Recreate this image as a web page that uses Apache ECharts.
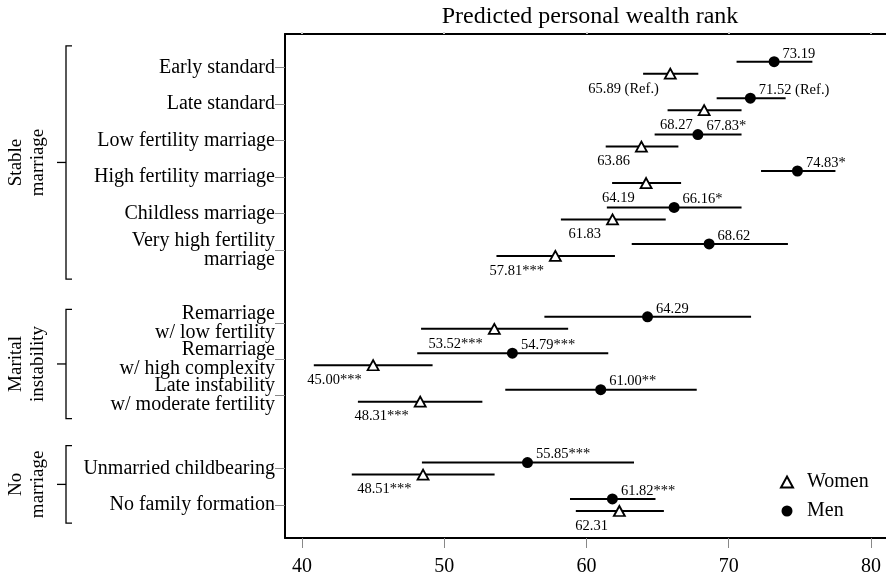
<!DOCTYPE html>
<html>
<head>
<meta charset="utf-8">
<title>Predicted personal wealth rank</title>
<script src="https://cdn.jsdelivr.net/npm/echarts@6/dist/echarts.min.js"></script>
<style>
  html, body { margin: 0; padding: 0; background: #fff; }
  #chart { width: 886px; height: 577px; }
</style>
</head>
<body>
<div id="chart"></div>
<script>
// Family-trajectory categories, top to bottom; '' marks a spacer row between groups.
const categories = [
  'Early standard', 'Late standard', 'Low fertility marriage', 'High fertility marriage',
  'Childless marriage', 'Very high fertility\nmarriage', '',
  'Remarriage\nw/ low fertility', 'Remarriage\nw/ high complexity', 'Late instability\nw/ moderate fertility', '',
  'Unmarried childbearing', 'No family formation'
];

// Men: predicted rank, 95% interval, significance marks
const menValue = [73.19, 71.52, 67.83, 74.83, 66.16, 68.62, null, 64.29, 54.79, 61.00, null, 55.85, 61.82];
const menLow   = [70.55, 69.15, 64.79, 72.27, 61.43, 63.18, null, 57.04, 48.10, 54.29, null, 48.43, 58.84];
const menHigh  = [75.88, 74.00, 70.90, 77.50, 70.90, 74.16, null, 71.57, 61.53, 67.75, null, 63.34, 64.85];
const menSig   = ['', ' (Ref.)', '*', '*', '*', '', '', '', '***', '**', '', '***', '***'];

// Women: predicted rank, 95% interval, significance marks
const womenValue = [65.89, 68.27, 63.86, 64.19, 61.83, 57.81, null, 53.52, 45.00, 48.31, null, 48.51, 62.31];
const womenLow   = [63.98, 65.70, 61.35, 61.80, 58.20, 53.67, null, 48.37, 40.83, 43.93, null, 43.50, 59.25];
const womenHigh  = [67.86, 70.90, 66.46, 66.65, 65.57, 62.00, null, 58.71, 49.18, 52.68, null, 53.54, 65.44];
const womenSig   = [' (Ref.)', '', '', '', '', '***', '', '***', '***', '***', '', '***', ''];

const xTicks = [40, 50, 60, 70, 80];

// Group brackets drawn to the left of the category labels
const groups = [
  { name: 'Stable\nmarriage', first: 0, last: 5 },
  { name: 'Marital\ninstability', first: 7, last: 9 },
  { name: 'No\nmarriage', first: 11, last: 12 }
];
// Bracket extent around its first and last rows (in row units)
const bracketPad = [[-0.6, 0.8], [-0.37, 0.63], [-0.63, 0.5]];

const SERIF = "'Liberation Serif', 'Times New Roman', Times, serif";
const ROW_SHIFT = 0.165;   // men drawn just above the row, women just below

const rowIdx = categories.map((c, i) => i).filter(i => categories[i] !== '');

function points(values, sig, shift) {
  return rowIdx.map(i => ({ value: [values[i], i + shift], label: { formatter: values[i].toFixed(2) + sig[i] } }));
}
function intervals(lo, hi, shift) {
  return rowIdx.map(i => [lo[i], hi[i], i + shift]);
}

function ciRender(params, api) {
  const a = api.coord([api.value(0), api.value(2)]);
  const b = api.coord([api.value(1), api.value(2)]);
  return {
    type: 'line',
    shape: { x1: a[0], y1: a[1], x2: b[0], y2: b[1] },
    style: { stroke: '#000', lineWidth: 2 }
  };
}

const chart = echarts.init(document.getElementById('chart'), null, { renderer: 'canvas' });

const option = {
  backgroundColor: '#fff',
  animation: false,
  title: {
    text: 'Predicted personal wealth rank',
    left: 585, top: 0, textAlign: 'center',
    textStyle: { fontFamily: SERIF, fontSize: 24, fontWeight: 'normal', color: '#000' }
  },
  grid: { left: 285, top: 34, right: 0, bottom: 39, containLabel: false },
  xAxis: [{
    type: 'value', position: 'bottom', min: 38.805, max: 81.055,
    axisLine: { show: true, onZero: false, lineStyle: { color: '#000', width: 2 } },
    axisTick: { show: true, length: 10, customValues: xTicks, lineStyle: { color: '#888', width: 1 } },
    axisLabel: { customValues: xTicks, margin: 19, fontFamily: SERIF, fontSize: 20, color: '#000' },
    splitLine: { show: false }
  }, {
    type: 'value', position: 'top', min: 38.805, max: 81.055,
    axisLine: { show: true, onZero: false, lineStyle: { color: '#000', width: 2 } },
    axisTick: { show: true, length: 2, customValues: xTicks, lineStyle: { color: '#ccc', width: 2 } },
    axisLabel: { show: false },
    splitLine: { show: false }
  }],
  yAxis: {
    type: 'value', inverse: true, min: -0.925, max: 12.906,
    axisLine: { show: true, onZero: false, lineStyle: { color: '#000', width: 2 } },
    axisTick: { show: true, length: 10, customValues: rowIdx, lineStyle: { color: '#888', width: 1 } },
    axisLabel: {
      customValues: rowIdx, margin: 10,
      formatter: v => categories[Math.round(v)] || '',
      fontFamily: SERIF, fontSize: 20, lineHeight: 19, color: '#000', align: 'right'
    },
    splitLine: { show: false }
  },
  legend: {
    orient: 'vertical', left: 780, top: 472, padding: 0,
    itemWidth: 12, itemHeight: 11, itemGap: 9,
    data: [{ name: 'Women', icon: 'triangle' }, { name: 'Men', icon: 'circle' }],
    textStyle: { fontFamily: SERIF, fontSize: 20, color: '#000', padding: [0, 0, 0, 9] }
  },
  series: [
    {
      type: 'custom', name: 'Men CI', renderItem: ciRender, silent: true,
      data: intervals(menLow, menHigh, -ROW_SHIFT), encode: { x: [0, 1], y: 2 }, z: 1
    },
    {
      type: 'custom', name: 'Women CI', renderItem: ciRender, silent: true,
      data: intervals(womenLow, womenHigh, ROW_SHIFT), encode: { x: [0, 1], y: 2 }, z: 1
    },
    {
      type: 'scatter', name: 'Women', symbol: 'triangle', symbolSize: [11, 10], z: 3,
      itemStyle: { color: '#fff', borderColor: '#000', borderWidth: 1.8, opacity: 1 },
      label: {
        show: true, position: 'left', distance: 5, offset: [0, 15],
        fontFamily: SERIF, fontSize: 14.5, color: '#000'
      },
      data: points(womenValue, womenSig, ROW_SHIFT)
    },
    {
      type: 'scatter', name: 'Men', symbol: 'circle', symbolSize: 11, z: 3,
      itemStyle: { color: '#000', opacity: 1 },
      label: {
        show: true, position: 'right', distance: 3, offset: [0, -8],
        fontFamily: SERIF, fontSize: 14.5, color: '#000'
      },
      data: points(menValue, menSig, -ROW_SHIFT)
    }
  ]
};

chart.setOption(option);

// Brackets and group names, placed from the y axis scale
const toY = v => chart.convertToPixel({ yAxisIndex: 0 }, v);
const graphics = [];
groups.forEach((g, k) => {
  const top = toY(g.first + bracketPad[k][0]);
  const bottom = toY(g.last + bracketPad[k][1]);
  const mid = (top + bottom) / 2;
  graphics.push({
    type: 'polyline',
    shape: { points: [[72, top], [66, top], [66, bottom], [72, bottom]] },
    style: { stroke: '#000', lineWidth: 1.3, fill: null }
  });
  graphics.push({
    type: 'line',
    shape: { x1: 57, y1: mid, x2: 66, y2: mid },
    style: { stroke: '#000', lineWidth: 1.3 }
  });
  graphics.push({
    type: 'text', x: 27, y: mid, rotation: Math.PI / 2,
    style: {
      text: g.name, align: 'center', verticalAlign: 'middle',
      fontFamily: SERIF, fontSize: 19, lineHeight: 22, fill: '#000'
    }
  });
});
chart.setOption({ graphic: graphics });
</script>
</body>
</html>
